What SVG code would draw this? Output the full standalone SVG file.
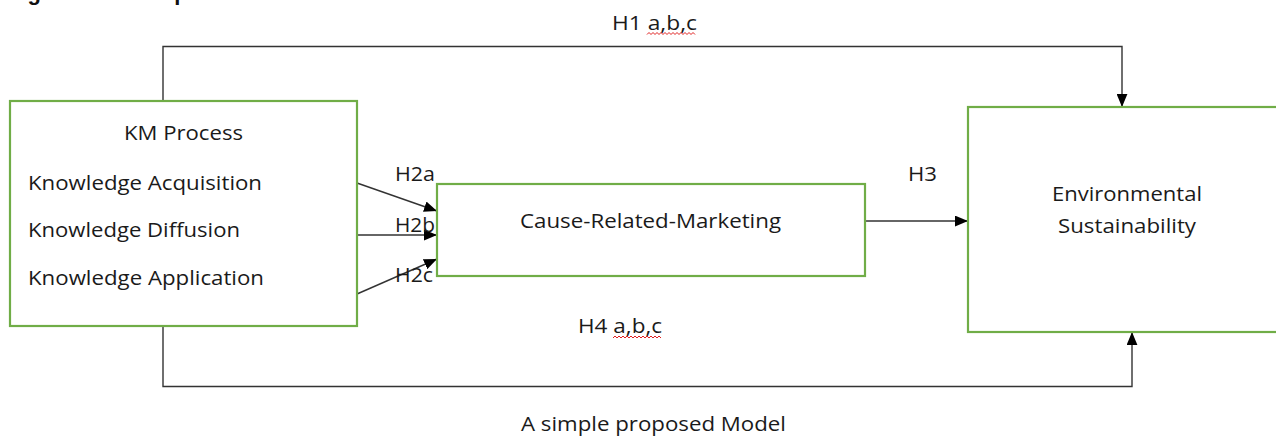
<svg xmlns="http://www.w3.org/2000/svg" width="1276" height="438" viewBox="0 0 1276 438">
<defs>
<marker id="arr" viewBox="0 0 12 10" refX="12" refY="5" markerWidth="13" markerHeight="11" markerUnits="userSpaceOnUse" orient="auto">
<path d="M0,0 L12,5 L0,10 Z" fill="#000"/>
</marker>
<style>
.box{fill:#fff;stroke:#70AD47;stroke-width:2.2}
.t{font-family:"Open Sans","Liberation Sans",sans-serif;font-size:20.5px;fill:#1a1a1a}
.c{fill:none;stroke:#333;stroke-width:1.4}
.ca{fill:none;stroke:#333;stroke-width:1.4;marker-end:url(#arr)}
.sq{fill:none;stroke:#e02020;stroke-width:1}
</style>
</defs>
<rect width="1276" height="438" fill="#fff"/>
<text x="8" y="0" style="font-family:'Liberation Sans',sans-serif;font-size:22px;font-weight:bold;fill:#111">Figure 1: Conceptual Model</text>
<g id="connectors">
<path class="ca" d="M163,101 V46.5 H1122 V107"/>
<path class="ca" d="M163,326 V386.5 H1132 V332"/>
<line class="ca" x1="357" y1="183" x2="437" y2="211"/>
<line class="ca" x1="357" y1="235" x2="437" y2="235"/>
<line class="ca" x1="357" y1="294" x2="437" y2="259"/>
<line class="ca" x1="865" y1="221" x2="968" y2="221"/>
</g>
<g id="km">
<rect class="box" x="10" y="101" width="347" height="225"/>
<text class="t" x="124" y="140" textLength="119" lengthAdjust="spacingAndGlyphs">KM Process</text>
<text class="t" x="28" y="190" textLength="234" lengthAdjust="spacingAndGlyphs">Knowledge Acquisition</text>
<text class="t" x="28" y="237" textLength="212" lengthAdjust="spacingAndGlyphs">Knowledge Diffusion</text>
<text class="t" x="28" y="285" textLength="236" lengthAdjust="spacingAndGlyphs">Knowledge Application</text>
</g>
<g id="crm">
<rect class="box" x="437" y="184" width="428" height="92"/>
<text class="t" x="520" y="228" textLength="261" lengthAdjust="spacingAndGlyphs">Cause-Related-Marketing</text>
</g>
<g id="es">
<rect class="box" x="968" y="107" width="320" height="225"/>
<text class="t" x="1052" y="201" textLength="150" lengthAdjust="spacingAndGlyphs">Environmental</text>
<text class="t" x="1058" y="233" textLength="138" lengthAdjust="spacingAndGlyphs">Sustainability</text>
</g>
<g id="labels">
<text class="t" x="612" y="30" textLength="85" lengthAdjust="spacingAndGlyphs">H1 a,b,c</text>
<path class="sq" d="M647,34.5 l2,-2 l2,2 l2,-2 l2,2 l2,-2 l2,2 l2,-2 l2,2 l2,-2 l2,2 l2,-2 l2,2 l2,-2 l2,2 l2,-2 l2,2 l2,-2 l2,2 l2,-2 l2,2 l2,-2 l2,2 l2,-2 l2,2"/>
<text class="t" x="395" y="181" textLength="40" lengthAdjust="spacingAndGlyphs">H2a</text>
<text class="t" x="395" y="232" textLength="40" lengthAdjust="spacingAndGlyphs">H2b</text>
<text class="t" x="395" y="282" textLength="38" lengthAdjust="spacingAndGlyphs">H2c</text>
<text class="t" x="908" y="181" textLength="29" lengthAdjust="spacingAndGlyphs">H3</text>
<text class="t" x="578" y="333" textLength="84" lengthAdjust="spacingAndGlyphs">H4 a,b,c</text>
<path class="sq" d="M613,338 l2,-2 l2,2 l2,-2 l2,2 l2,-2 l2,2 l2,-2 l2,2 l2,-2 l2,2 l2,-2 l2,2 l2,-2 l2,2 l2,-2 l2,2 l2,-2 l2,2 l2,-2 l2,2 l2,-2 l2,2 l2,-2 l2,2"/>
<text class="t" x="521" y="431" textLength="265" lengthAdjust="spacingAndGlyphs">A simple proposed Model</text>
</g>
</svg>
